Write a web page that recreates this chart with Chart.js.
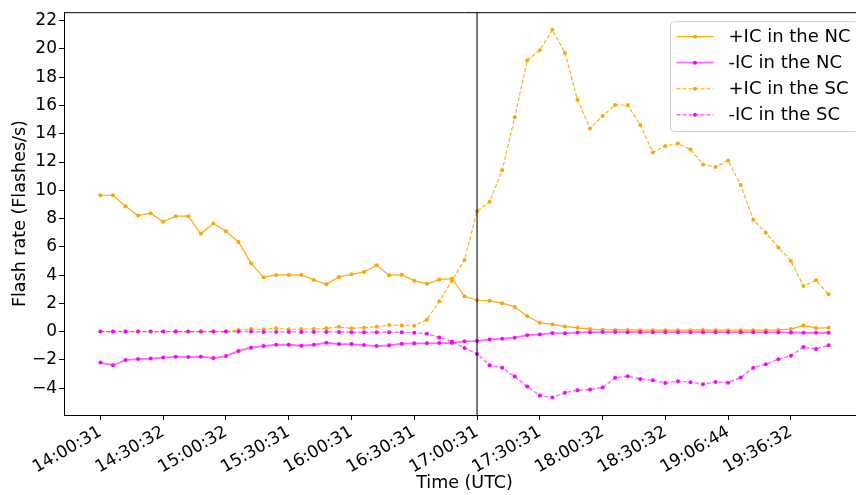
<!DOCTYPE html>
<html>
<head>
<meta charset="utf-8">
<script src="https://cdn.jsdelivr.net/npm/chart.js@4.4.1/dist/chart.umd.min.js"></script>
<style>
  html, body { margin: 0; padding: 0; background: #fff; overflow: hidden; }
  #wrap { width: 869px; height: 495px; }
</style>
</head>
<body>
<div id="wrap"><canvas id="flashChart" width="869" height="495"></canvas></div>
<script>
// one value every ~6 min, 59 samples
const plusNC = [9.65, 9.65, 8.87, 8.21, 8.38, 7.77, 8.17, 8.17, 6.92, 7.65, 7.11, 6.34, 4.83, 3.84, 4.01,
    4.01, 4.01, 3.66, 3.35, 3.87, 4.05, 4.22, 4.69, 3.98, 4.03, 3.59, 3.38, 3.68, 3.75, 2.50,
    2.22, 2.18, 2.01, 1.75, 1.09, 0.63, 0.51, 0.37, 0.27, 0.18, 0.14, 0.12, 0.12, 0.10, 0.10,
    0.10, 0.10, 0.10, 0.12, 0.10, 0.10, 0.10, 0.10, 0.10, 0.12, 0.18, 0.44, 0.25, 0.27];
const minusNC = [-2.19, -2.38, -2.01, -1.94, -1.91, -1.84, -1.77, -1.80, -1.77, -1.87, -1.73, -1.37, -1.14, -1.02, -0.93,
    -0.93, -1.00, -0.93, -0.79, -0.88, -0.88, -0.95, -1.02, -0.97, -0.86, -0.83, -0.83, -0.81, -0.81, -0.69,
    -0.67, -0.55, -0.50, -0.43, -0.25, -0.20, -0.10, -0.12, -0.06, -0.04, -0.03, -0.03, -0.04, -0.04, -0.04,
    -0.04, -0.04, -0.04, -0.04, -0.04, -0.04, -0.04, -0.05, -0.05, -0.05, -0.06, -0.08, -0.08, -0.08];
const plusSC = [0, 0, 0, 0, 0, 0, 0, 0, 0, 0, 0, 0.11, 0.18, 0.16, 0.23,
    0.16, 0.18, 0.18, 0.23, 0.34, 0.23, 0.28, 0.35, 0.46, 0.43, 0.41, 0.84, 2.14, 3.60, 5.07,
    8.52, 9.18, 11.41, 15.17, 19.20, 19.91, 21.35, 19.72, 16.41, 14.37, 15.26, 16.03, 16.03, 14.62, 12.68,
    13.14, 13.31, 12.89, 11.83, 11.64, 12.11, 10.37, 7.91, 6.99, 5.96, 5.00, 3.23, 3.63, 2.64];
const minusSC = [0, 0, 0, 0, 0, 0, 0, 0, 0, 0, 0, 0, 0, -0.02, -0.02,
    -0.02, -0.02, -0.02, -0.02, -0.02, -0.04, -0.04, -0.04, -0.04, -0.04, -0.08, -0.15, -0.41, -0.70, -1.16,
    -1.58, -2.38, -2.55, -3.18, -3.89, -4.52, -4.66, -4.33, -4.14, -4.10, -3.96, -3.27, -3.16, -3.35, -3.44,
    -3.63, -3.51, -3.58, -3.72, -3.56, -3.61, -3.25, -2.55, -2.31, -1.96, -1.70, -1.09, -1.23, -0.97];

const tickIdx = [0, 5, 10, 15, 20, 25, 30, 35, 40, 45, 50, 55];
const tickLabels = ['14:00:31', '14:30:32', '15:00:32', '15:30:31', '16:00:31', '16:30:31',
    '17:00:31', '17:30:31', '18:00:32', '18:30:32', '19:06:44', '19:36:32'];
const yTicks = [-4, -2, 0, 2, 4, 6, 8, 10, 12, 14, 16, 18, 20, 22];
const markIdx = 30; // vertical line at 17:00:31

const seriesNames = ['+IC in the NC', '-IC in the NC', '+IC in the SC', '-IC in the SC'];

const toXY = arr => arr.map((v, i) => ({ x: i, y: v }));
const FONT = 'DejaVu Sans';
Chart.defaults.font.family = FONT;
Chart.defaults.color = '#000';

function series(label, values, line, dot, width, dash, order) {
    return {
        label: label,
        data: toXY(values),
        borderColor: line,
        borderWidth: width,
        borderDash: dash,
        pointRadius: 2,
        pointBorderWidth: 0,
        pointBackgroundColor: dot,
        fill: false,
        tension: 0,
        order: order
    };
}

const frameAndExtras = {
    id: 'frameAndExtras',
    afterDatasetsDraw(chart) {
        const { ctx, chartArea: a, scales } = chart;
        const vx = scales.x.getPixelForValue(markIdx);
        ctx.save();
        ctx.strokeStyle = 'rgba(0,0,0,0.7)';
        ctx.lineWidth = 1.5;
        ctx.beginPath();
        ctx.moveTo(vx, a.top);
        ctx.lineTo(vx, a.bottom);
        ctx.stroke();
        // top/right spines
        ctx.strokeStyle = '#000';
        ctx.lineWidth = 1;
        ctx.beginPath();
        ctx.moveTo(a.left, a.top + 0.5);
        ctx.lineTo(a.right, a.top + 0.5);
        ctx.lineTo(a.right, a.bottom);
        ctx.stroke();
        ctx.restore();
    },
    afterDraw(chart) {
        const { ctx, chartArea: a } = chart;
        const ds = chart.data.datasets;
        const boxW = 188, boxH = 110;
        const bx = a.right - 7 - boxW + 0.5, by = a.top + 9 + 0.5;
        ctx.save();
        ctx.beginPath();
        ctx.roundRect(bx, by, boxW, boxH, 4);
        ctx.fillStyle = 'rgba(255,255,255,0.8)';
        ctx.fill();
        ctx.strokeStyle = '#cccccc';
        ctx.lineWidth = 1;
        ctx.stroke();
        ctx.font = '18px "' + FONT + '"';
        ctx.textBaseline = 'middle';
        ds.forEach((d, i) => {
            const cy = by + 15 + i * 26;
            const x0 = bx + 6, x1 = bx + 43;
            ctx.strokeStyle = d.borderColor;
            ctx.lineWidth = d.borderWidth;
            ctx.setLineDash(d.borderDash || []);
            ctx.beginPath();
            ctx.moveTo(x0, cy);
            ctx.lineTo(x1, cy);
            ctx.stroke();
            ctx.setLineDash([]);
            ctx.fillStyle = d.pointBackgroundColor;
            ctx.beginPath();
            ctx.arc((x0 + x1) / 2, cy, 2, 0, Math.PI * 2);
            ctx.fill();
            ctx.fillStyle = '#000';
            ctx.fillText(d.label, bx + 58, cy + 1);
        });
        ctx.restore();
    }
};

new Chart('flashChart', {
    type: 'line',
    data: {
        datasets: [
            series(seriesNames[0], plusNC, 'rgba(255,165,0,0.95)', '#ffa500', 1.2, [], 4),
            series(seriesNames[1], minusNC, 'rgba(255,0,255,0.6)', '#ff00ff', 1.8, [], 3),
            series(seriesNames[2], plusSC, 'rgba(255,165,0,0.95)', '#ffa500', 1.1, [4, 2], 2),
            series(seriesNames[3], minusSC, 'rgba(255,0,255,0.6)', '#ff00ff', 1.4, [4, 2], 1)
        ]
    },
    options: {
        responsive: false,
        animation: false,
        devicePixelRatio: 1,
        layout: { padding: { top: 10, right: 0, left: 0, bottom: 0 } },
        plugins: {
            legend: { display: false },
            tooltip: { enabled: false }
        },
        scales: {
            x: {
                type: 'linear',
                min: -2.9,
                max: 60.9,
                afterBuildTicks: s => { s.ticks = tickIdx.map(v => ({ value: v })); },
                afterFit: s => { s.height = 80; },
                grid: { display: true, drawOnChartArea: false, drawTicks: true, tickLength: 5, tickColor: '#000' },
                border: { display: true, color: '#000', width: 1 },
                ticks: {
                    autoSkip: false,
                    minRotation: 30,
                    maxRotation: 30,
                    padding: 2,
                    font: { size: 17 },
                    callback: v => tickLabels[tickIdx.indexOf(v)]
                },
                title: { display: true, text: 'Time (UTC)', font: { size: 17.5 }, padding: { top: 0, bottom: 1.5 } }
            },
            y: {
                min: -5.9,
                max: 22.6,
                afterBuildTicks: s => { s.ticks = yTicks.map(v => ({ value: v })); },
                afterFit: s => { s.width = 64; },
                grid: { display: true, drawOnChartArea: false, drawTicks: true, tickLength: 5, tickColor: '#000' },
                border: { display: true, color: '#000', width: 1 },
                ticks: {
                    padding: 2,
                    font: { size: 17 },
                    callback: v => (v < 0 ? '\u2212' + Math.abs(v) : String(v))
                },
                title: { display: true, text: 'Flash rate (Flashes/s)', font: { size: 17.5 }, padding: { top: 10, bottom: 0 } }
            }
        }
    },
    plugins: [frameAndExtras]
});
</script>
</body>
</html>
